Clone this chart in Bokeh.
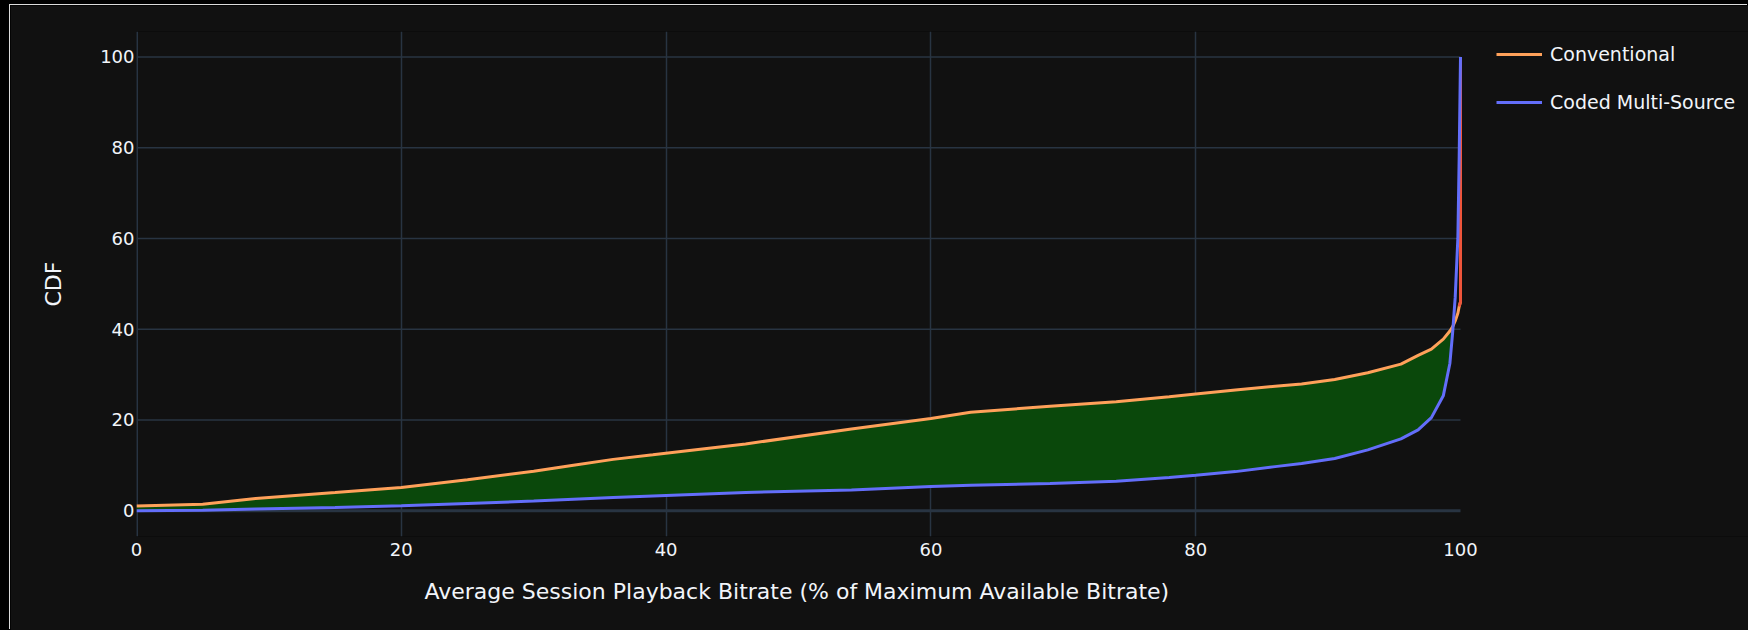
import numpy as np
from bokeh.plotting import figure
from bokeh.models import Range1d, FixedTicker, Span, Legend, LegendItem, Title
from bokeh.layouts import column
from bokeh.embed import file_html
from bokeh.resources import INLINE

# Average session playback bitrate (% of maximum available bitrate)
bitrate = [0, 5, 9, 15, 20, 25, 30, 33, 36, 39, 46, 54, 60, 63, 69, 74, 78, 80,
           83, 86, 88, 90.5, 93, 95.5, 96.8, 97.8, 98.7, 99.2, 99.4, 99.6, 99.8,
           99.9, 100, 100]

# CDF (%) for each delivery scheme
conventional = [1.0, 1.4, 2.7, 4.0, 5.1, 6.8, 8.7, 10.0, 11.3, 12.3, 14.7, 18.0,
                20.3, 21.7, 23.0, 24.0, 25.1, 25.7, 26.6, 27.4, 27.9, 28.9, 30.4,
                32.3, 34.2, 35.6, 37.8, 39.6, 40.5, 41.8, 43.5, 45.0, 46.0, 100.0]
coded_multi_source = [0.0, 0.1, 0.35, 0.7, 1.1, 1.6, 2.1, 2.5, 2.9, 3.25, 4.0, 4.55,
                      5.3, 5.6, 6.0, 6.5, 7.3, 7.8, 8.6, 9.7, 10.4, 11.5, 13.4,
                      15.8, 17.8, 20.5, 25.3, 32.5, 39.0, 47.0, 60.0, 78.0, 100.0,
                      100.0]

x_ticks = [0, 20, 40, 60, 80, 100]
y_ticks = [0, 20, 40, 60, 80, 100]

FONT = "DejaVu Sans"
TEXT = "#f2f5fa"
GRID = "#283442"
BG = "#111111"
ORANGE = "#FFA15A"
BLUE = "#636efa"
RED = "#EF553B"
GAIN = "#0a480b"

x = np.array(bitrate, dtype=float)
conv = np.array(conventional, dtype=float)
coded = np.array(coded_multi_source, dtype=float)
upper = np.maximum(conv, coded)

# The frame runs to the right edge of the canvas so that the legend can sit
# beside the data area; grid and zero lines are bounded to 0..100.
X_MIN, X_MAX = x_ticks[0], x_ticks[-1]
PLOT_W, CANVAS_W, LEFT = 1324, 1738, 126
x_end = X_MIN + (X_MAX - X_MIN) * (CANVAS_W - LEFT) / PLOT_W

p = figure(width=CANVAS_W, height=625,
           x_range=Range1d(X_MIN, x_end), y_range=Range1d(-5.7, 105.6),
           output_backend="svg", toolbar_location=None,
           background_fill_color=BG, border_fill_color=BG,
           min_border_left=LEFT, min_border_right=0,
           min_border_top=26, min_border_bottom=94)
p.outline_line_color = None

# grid and zero lines
p.xgrid.ticker = FixedTicker(ticks=[t for t in x_ticks if X_MIN < t < X_MAX])
p.xgrid.grid_line_color = GRID
p.xgrid.grid_line_width = 1.5
p.ygrid.grid_line_color = None
gy = [t for t in y_ticks if t > 0]
p.segment(x0=[X_MIN] * len(gy), x1=[X_MAX] * len(gy), y0=gy, y1=gy,
          line_color=GRID, line_width=1.5, level="underlay")
p.segment(x0=[X_MIN], x1=[X_MAX], y0=[0], y1=[0],
          line_color=GRID, line_width=3, level="underlay")
p.add_layout(Span(location=0, dimension="height", line_color=GRID,
                  line_width=3, level="underlay"))

# shaded gap between the two CDFs
p.varea(x=x, y1=coded, y2=upper, fill_color=GAIN, fill_alpha=1.0)

r_conv = p.line(x, conv, line_color=ORANGE, line_width=3)
# last step of the conventional CDF, where it lies right of the coded curve
p.line(x[-3:], conv[-3:], line_color=RED, line_width=3)
r_coded = p.line(x, coded, line_color=BLUE, line_width=3)

# axes
p.xaxis.ticker = FixedTicker(ticks=x_ticks)
p.yaxis.ticker = FixedTicker(ticks=y_ticks)
p.yaxis.axis_label = "CDF"
for ax in (p.xaxis[0], p.yaxis[0]):
    ax.axis_line_color = None
    ax.major_tick_line_color = None
    ax.minor_tick_line_color = None
    ax.major_tick_in = 0
    ax.major_tick_out = 0
    ax.major_label_text_color = TEXT
    ax.major_label_text_font = FONT
    ax.major_label_text_font_size = "18px"
    ax.axis_label_text_color = TEXT
    ax.axis_label_text_font = FONT
    ax.axis_label_text_font_size = "22px"
    ax.axis_label_text_font_style = "normal"
p.xaxis.major_label_standoff = 6
p.yaxis.major_label_standoff = 2
p.yaxis.axis_label_standoff = 31

# x-axis title, centred under the 0..100 data area
p.add_layout(Title(text="Average Session Playback Bitrate (% of Maximum Available Bitrate)",
                   align="left", offset=288, vertical_align="middle", standoff=39,
                   text_font=FONT, text_font_size="22px", text_font_style="normal",
                   text_color=TEXT), "below")

legend = Legend(items=[LegendItem(label="Conventional", renderers=[r_conv]),
                       LegendItem(label="Coded Multi-Source", renderers=[r_coded])],
                location=(1360, 423), orientation="vertical",
                padding=0, margin=0, spacing=26,
                glyph_width=46, glyph_height=20, label_height=20,
                label_standoff=8,
                label_text_font=FONT, label_text_font_size="19px",
                label_text_color=TEXT, label_text_baseline="middle",
                background_fill_alpha=0, border_line_color=None)
p.add_layout(legend, "center")

p.styles = {"box-shadow": "-1px -1px 0px 0px #dcdcdc"}
root = column(p, styles={"background-color": "#000000",
                         "padding": "5px 0px 0px 10px"})

with open("out.html", "w") as f:
    f.write(file_html(root, INLINE))
